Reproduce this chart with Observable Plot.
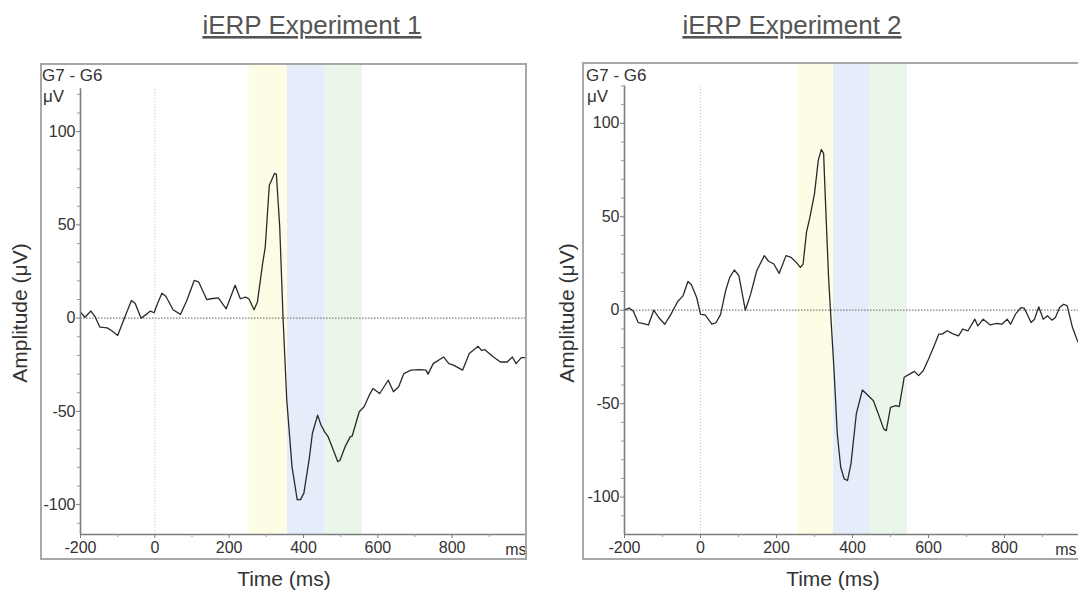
<!DOCTYPE html>
<html>
<head>
<meta charset="utf-8">
<script src="https://cdn.jsdelivr.net/npm/d3@7"></script>
<script src="https://cdn.jsdelivr.net/npm/@observablehq/plot@0.6"></script>
<style>
  html, body { margin: 0; padding: 0; background: #fff; }
  body { position: relative; width: 1078px; height: 592px; overflow: hidden;
         font-family: "Liberation Sans", Arial, sans-serif; }
  .panel { position: absolute; top: 60px; height: 532px; }
  .panel svg { max-width: none !important; }
  .frame { position: absolute; border: 2px solid #a8a8a8; box-sizing: border-box; pointer-events: none; z-index: 2; }
  #overlay { position: absolute; left: 0; top: 0; z-index: 3; pointer-events: none; }
</style>
</head>
<body>
<div id="p1" class="panel" style="left:0px;width:540px"></div>
<div id="p2" class="panel" style="left:540px;width:560px"></div>
<div class="frame" style="left:40px;top:63px;width:487px;height:497px"></div>
<div class="frame" style="left:582px;top:62px;width:520px;height:498px"></div>
<svg id="overlay" width="1078" height="592"></svg>
<script>
// ---------- data ----------
const titles = ["iERP Experiment 1", "iERP Experiment 2"];
const channelLabel = "G7 - G6";
const unitLabel = "μV";
const yLabel = "Amplitude (μV)";
const xLabel = "Time (ms)";

const xTicks = [-200, 0, 200, 400, 600, 800];
const xMinorTicks = [-100, 100, 300, 500, 700, 900];
const xEndLabel = "ms";
const yTicks = [-100, -50, 0, 50, 100];
const yMinorTicks = [-110, -90, -80, -70, -60, -40, -30, -20, -10, 10, 20, 30, 40, 60, 70, 80, 90, 110, 120];

const timeE1 = [-200,-188,-172,-160,-148,-128,-114,-100,-82,-63,-53,-37,-21,-12,-2,7,19,30,49,69,86,106,118,140,151,171,192,216,230,244,253,267,276,290,297,308,322,327,336,345,355,369,383,392,401,415,424,438,447,457,466,480,492,498,512,526,531,550,563,577,587,605,628,642,656,670,689,712,730,735,749,777,791,805,828,846,870,879,888,911,930,948,962,972,986,1000];
const ampE1 = [3.2,0.5,3.8,0.5,-4.8,-5.2,-7,-9.3,0,9.5,8,0,2.3,3.8,2.9,7.7,13.4,11.6,4.5,2,9.5,20.2,19.4,9.9,10.4,10.9,5,17.6,10.4,11.3,10.4,4.5,8.6,29.2,38,71.3,77.6,77.2,49,0,-44,-79.5,-97.3,-97.3,-93.8,-76,-61.7,-52,-57.3,-61,-63.5,-70.6,-76.9,-76.3,-68.9,-63.5,-63.2,-50.2,-47.5,-41.3,-37.7,-40.4,-33.3,-39.5,-36.8,-29.7,-27.9,-27.6,-27.9,-30,-24.4,-20.8,-24.4,-25.3,-27.9,-19,-15.1,-17.3,-16.9,-20.8,-23.5,-23.5,-20.8,-24.4,-21.2,-21.2];

const timeE2 = [-200,-188,-177,-164,-150,-137,-123,-110,-94,-78,-60,-46,-33,-24,-10,0,12,30,41,53,66,77,89,101,118,132,148,168,179,193,207,225,238,252,263,270,279,288,300,310,318,324,328,337,342,351,360,369,378,387,396,410,426,437,455,468,482,489,500,514,523,536,550,563,574,586,600,613,627,636,649,663,679,690,704,722,730,744,762,780,793,807,816,830,843,852,870,879,890,902,913,925,934,945,956,965,979,992,1000];
const ampE2 = [0,1.1,-0.4,-6.6,-7.2,-7.9,0,-3.9,-7.5,-2.2,4.7,7.7,15.4,13.6,6.8,-2.2,-2.5,-7.5,-6.6,-2.2,10.4,17.6,21.5,18.5,0,8.6,21.1,29.2,26.2,24.7,19.7,29.2,28.3,25.6,22.9,24.7,41.8,49.8,62.4,80.3,86,83.9,62.4,17.6,0,-30.6,-66.2,-84,-90.2,-91.1,-82.2,-55.5,-42.7,-44.8,-48.4,-55.5,-63.5,-64.4,-52,-51,-51.6,-35.9,-34.2,-32.7,-35,-32.4,-26.2,-19.9,-12.8,-12.8,-11,-12.5,-13.7,-10.1,-11,-4.8,-8.4,-4.8,-7.8,-7.1,-7.5,-4.8,-7.5,-1.8,1.4,1.1,-6.6,-4.8,1.8,-4.8,-3,-5.3,-3.9,1.4,3.2,2.3,-9.3,-16.4,-19];

const bandColors = ["#fdfde6", "#e5edfa", "#e9f6e9"];
const bandStartE1 = [253, 357, 458];
const bandEndE1 = [357, 458, 558];
const bandStartE2 = [256, 350, 447];
const bandEndE2 = [350, 447, 545];

// ---------- drawing ----------
const fmt = d => String(d);
function panel(time, amp, bStart, bEnd, opts) {
  const data = time.map((t, i) => ({t, v: amp[i]}));
  const bands = bStart.map((s, i) => ({s, e: bEnd[i], c: bandColors[i]}));
  const [yMin, yTop] = opts.yDomain;
  const axisTop = opts.axisTop;
  return Plot.plot({
    width: opts.width, height: 532,
    marginLeft: opts.marginLeft, marginRight: opts.marginRight,
    marginTop: opts.marginTop, marginBottom: 58,
    style: {fontFamily: '"Liberation Sans", Arial, sans-serif', fontSize: "16px", color: "#333", background: "transparent", overflow: "visible", maxWidth: "none"},
    x: {domain: [-200, 1000]},
    y: {domain: [yMin, yTop]},
    marks: [
      Plot.rect(bands, {x1: "s", x2: "e", fill: "c"}),
      Plot.ruleY([0], {stroke: "#808080", strokeWidth: 1.3, strokeDasharray: "1.5,1.5"}),
      Plot.ruleX([0], {y1: yMin, y2: axisTop, stroke: "#c4c4c4", strokeWidth: 1, strokeDasharray: "1,2"}),
      Plot.line(data, {x: "t", y: "v", stroke: "#2a2a2a", strokeWidth: 1.3}),
      Plot.ruleX([-200], {y1: yMin, y2: axisTop, stroke: "#7d7d7d", strokeWidth: 1.6}),
      Plot.ruleY([yMin], {stroke: "#7d7d7d", strokeWidth: 1.6}),
      Plot.axisX({ticks: xTicks, tickSize: 4, tickPadding: 3, fontSize: 16, stroke: "#7d7d7d", fill: "#333", tickFormat: fmt, label: null}),
      Plot.axisX({ticks: xMinorTicks, tickSize: 3, stroke: "#999", tickFormat: () => "", label: null}),
      Plot.axisY({ticks: yTicks, tickSize: 4, tickPadding: 1, fontSize: 16, stroke: "#7d7d7d", fill: "#333", tickFormat: fmt, label: null}),
      Plot.axisY({ticks: yMinorTicks.filter(d => d <= axisTop && d >= yMin), tickSize: 3, stroke: "#999", tickFormat: () => "", label: null}),
      Plot.text([xEndLabel], {x: 1000, y: yMin, dx: opts.msDx, dy: 15, textAnchor: "end", lineAnchor: "middle", fontSize: 16, fill: "#333"})
    ]
  });
}

document.getElementById("p1").append(panel(timeE1, ampE1, bandStartE1, bandEndE1,
  {width: 540, marginLeft: 80, marginRight: 14, marginTop: 4, yDomain: [-116, 136], axisTop: 123, msDx: 0}));
document.getElementById("p2").append(panel(timeE2, ampE2, bandStartE2, bandEndE2,
  {width: 560, marginLeft: 84, marginRight: 20, marginTop: 3, yDomain: [-120, 132], axisTop: 120, msDx: -4}));

// ---------- text labels ----------
const ov = d3.select("#overlay");
const font = '"Liberation Sans", Arial, sans-serif';
const titleX = [312, 792];
titles.forEach((t, i) => {
  ov.append("text").attr("x", titleX[i]).attr("y", 34).attr("text-anchor", "middle")
    .attr("font-family", font).attr("font-size", 26).attr("fill", "#555")
    .attr("text-decoration", "underline").text(t);
});
const chanX = [42, 586];
chanX.forEach(x => {
  ov.append("text").attr("x", x).attr("y", 81).attr("font-family", font).attr("font-size", 17).attr("fill", "#333").text(channelLabel);
  ov.append("text").attr("x", x + 1).attr("y", 102).attr("font-family", font).attr("font-size", 17).attr("fill", "#333").text(unitLabel);
});
const ylabX = [20, 567];
ylabX.forEach(x => {
  ov.append("text").attr("transform", `translate(${x + 7},313) rotate(-90)`).attr("text-anchor", "middle")
    .attr("font-family", font).attr("font-size", 21).attr("fill", "#333").text(yLabel);
});
const xlabX = [284, 833];
xlabX.forEach(x => {
  ov.append("text").attr("x", x).attr("y", 586).attr("text-anchor", "middle")
    .attr("font-family", font).attr("font-size", 21).attr("fill", "#333").text(xLabel);
});
</script>
</body>
</html>
